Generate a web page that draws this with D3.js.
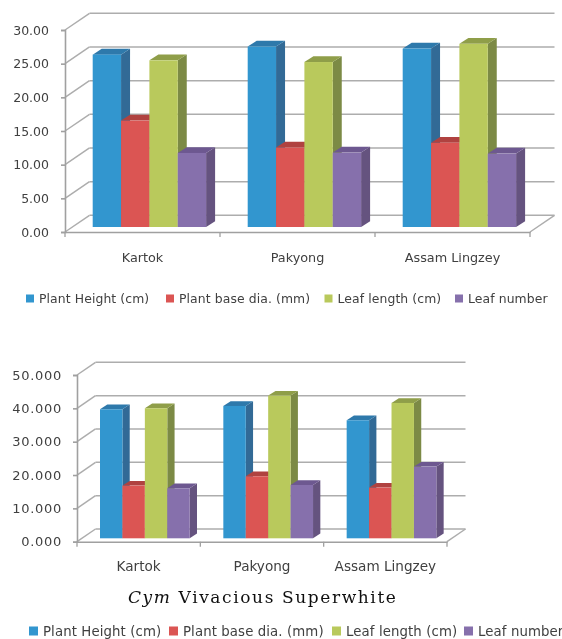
<!DOCTYPE html>
<html><head><meta charset="utf-8">
<script src="https://cdn.jsdelivr.net/npm/d3@7"></script>
<style>html,body{margin:0;padding:0;background:#fff;overflow:hidden}svg{display:block}</style>
</head><body><svg id="c" width="562" height="639"><defs><filter id="soft" x="0" y="0" width="100%" height="100%"><feGaussianBlur stdDeviation="0.35"/></filter></defs></svg>
<script>
const categories = ["Kartok", "Pakyong", "Assam Lingzey"];
const seriesNames = ["Plant Height (cm)", "Plant base dia. (mm)", "Leaf length (cm)", "Leaf number"];
const ticksTop = [0, 5, 10, 15, 20, 25, 30];
const ticksBottom = [0, 10, 20, 30, 40, 50];
const heightTop = [25.6, 26.8, 26.5];
const baseDiaTop = [15.8, 11.8, 12.5];
const lengthTop = [24.75, 24.5, 27.2];
const numberTop = [11.0, 11.05, 10.9];
const heightBottom = [38.7, 39.7, 35.4];
const baseDiaBottom = [15.8, 18.6, 15.2];
const lengthBottom = [39.0, 42.8, 40.6];
const numberBottom = [15.0, 16.0, 21.5];
const fronts = ["#3296cf", "#db5552", "#b9c95b", "#8670ac"];
const tops = ["#2f79ab", "#b04341", "#8f9e49", "#6d5890"];
const sides = ["#336a96", "#a33e3c", "#7b8a45", "#65527f"];

const root = d3.select("#c").append("g").attr("filter", "url(#soft)");
root.append("rect").attr("width", 562).attr("height", 639).attr("fill", "#fff");
const FONT = "'DejaVu Sans', sans-serif";

function chart(o) {
  const g = root.append("g");
  const y = d3.scaleLinear().domain(o.domain).range([o.y0, o.y1]);
  const x = d3.scaleBand().domain(categories).range([o.x0, o.x1]);
  const xs = d3.scaleBand().domain(seriesNames).range([o.inset, o.inset + o.barsW]);
  const grid = "#adadad";
  const line = (x1, y1, x2, y2, w) => g.append("line").attr("x1", x1).attr("y1", y1).attr("x2", x2).attr("y2", y2)
    .attr("stroke", grid).attr("stroke-width", w || 1.5);

  o.ticks.forEach(t => {
    line(o.x0, y(t), o.x0 + o.wallDx, y(t) - o.wallDy);
    line(o.x0 + o.wallDx, y(t) - o.wallDy, o.x1 + o.wallDx, y(t) - o.wallDy);
  });
  line(o.x1, y(0), o.x1 + o.wallDx, y(0) - o.wallDy);

  // value axis
  const ay = g.append("g").attr("transform", `translate(${o.x0},0)`)
    .call(d3.axisLeft(y).tickValues(o.ticks).tickSize(4).tickPadding(o.tickPad).tickFormat(d3.format(o.fmt)));
  ay.selectAll("line,path").attr("stroke", "#a0a0a0").attr("stroke-width", 1.6);
  ay.selectAll("text").attr("fill", "#404040").style("font", `${o.tickFont}px ${FONT}`).style("letter-spacing", o.tickLs + "px");

  // category axis
  const ax = g.append("g").attr("transform", `translate(0,${o.y0})`)
    .call(d3.axisBottom(x).tickSize(0).tickPadding(o.catPad));
  ax.selectAll("path").attr("stroke", "#a0a0a0").attr("stroke-width", 1.6);
  ax.selectAll("text").attr("fill", "#404040").style("font", `${o.catFont}px ${FONT}`);
  const edges = categories.map(c => x(c)).concat(o.x1);
  g.selectAll(null).data(edges).join("line")
    .attr("x1", d => d).attr("x2", d => d).attr("y1", o.y0).attr("y2", o.y0 + 5)
    .attr("stroke", "#a0a0a0").attr("stroke-width", 1.3);

  // bars
  const w = xs.bandwidth();
  categories.forEach((c, ci) => {
    seriesNames.forEach((s, si) => {
      const v = o.values[si][ci];
      const l = x(c) + xs(s), r = l + w, t = y(v) - o.lift, b = y(0) - o.lift;
      const d = o.barDx, e = o.barDy;
      g.append("path").attr("fill", sides[si]).attr("d", d3.line()([[r, t], [r + d, t - e], [r + d, b - e], [r, b]]) + "Z");
      g.append("path").attr("fill", tops[si]).attr("d", d3.line()([[l, t], [l + d, t - e], [r + d, t - e], [r, t]]) + "Z");
      g.append("rect").attr("fill", fronts[si]).attr("x", l).attr("y", t).attr("width", w).attr("height", b - t);
    });
  });

  // legend
  seriesNames.forEach((s, i) => {
    g.append("rect").attr("x", o.legX[i]).attr("y", o.legY - o.legS / 2).attr("width", o.legS).attr("height", o.legS).attr("fill", fronts[i]);
    g.append("text").attr("x", o.legX[i] + o.legGap).attr("y", o.legY).attr("dy", "0.35em")
      .attr("fill", "#404040").style("font", `${o.legFont}px ${FONT}`).style("letter-spacing", o.legLs + "px").text(s);
  });
}

chart({
  domain: [0, 30], ticks: ticksTop, fmt: ".2f",
  values: [heightTop, baseDiaTop, lengthTop, numberTop],
  x0: 65, x1: 530, y0: 232, y1: 30, wallDx: 24.5, wallDy: 16.7,
  inset: 27.7, barsW: 113.4, lift: 5, barDx: 9, barDy: 5.8,
  tickFont: 12.5, tickLs: 0, tickPad: 12, catFont: 12.8, catPad: 21,
  legX: [26, 166, 324.5, 455], legY: 298.5, legS: 8, legGap: 13, legFont: 12.4, legLs: 0.1
});
chart({
  domain: [0, 50], ticks: ticksBottom, fmt: ".3f",
  values: [heightBottom, baseDiaBottom, lengthBottom, numberBottom],
  x0: 77, x1: 447, y0: 541.7, y1: 375, wallDx: 18.5, wallDy: 12.7,
  inset: 23, barsW: 89.7, lift: 3.4, barDx: 7.3, barDy: 4.7,
  tickFont: 13, tickLs: 0.7, tickPad: 11, catFont: 13.6, catPad: 20,
  legX: [29, 169, 332, 464], legY: 631, legS: 9, legGap: 14, legFont: 13.3, legLs: 0.1
});

const title = root.append("text").attr("x", 128).attr("y", 603).attr("fill", "#111")
  .style("font", "17px 'DejaVu Serif', serif").style("letter-spacing", "1.6px");
title.append("tspan").style("font-style", "italic").text("Cym");
title.append("tspan").text(" Vivacious Superwhite");
</script></body></html>
